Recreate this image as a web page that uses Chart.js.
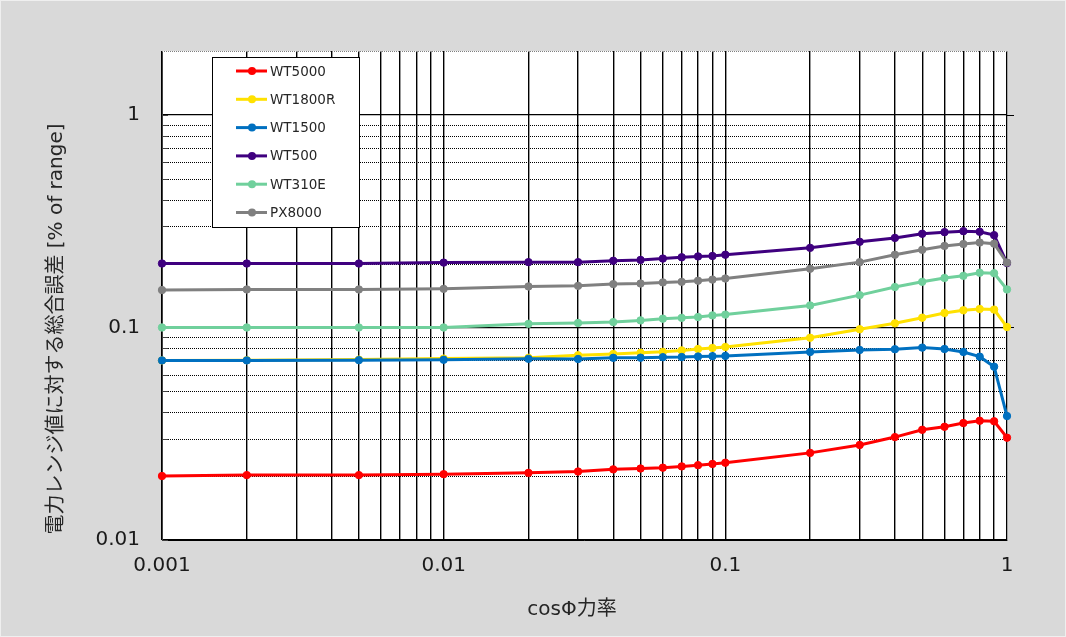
<!DOCTYPE html>
<html>
<head>
<meta charset="utf-8">
<script src="https://cdn.jsdelivr.net/npm/chart.js@4.4.1/dist/chart.umd.min.js"></script>
<style>
html,body{margin:0;padding:0;background:#d9d9d9;}
#wrap{width:1066px;height:637px;position:relative;}
</style>
</head>
<body>
<div id="wrap"><canvas id="c"></canvas></div>
<script>
// ---- data ----
const cosPhi = [0.001,0.002,0.005,0.01,0.02,0.03,0.04,0.05,0.06,0.07,0.08,0.09,0.1,0.2,0.3,0.4,0.5,0.6,0.7,0.8,0.9,1];
const seriesNames = ['WT5000','WT1800R','WT1500','WT500','WT310E','PX8000'];
const wt5000  = [0.0200,0.0202,0.0202,0.0204,0.0207,0.0210,0.0215,0.0217,0.0219,0.0222,0.0225,0.0228,0.0231,0.0257,0.0280,0.0305,0.0330,0.0341,0.0355,0.0364,0.0362,0.0303];
const wt1800r = [0.0700,0.0702,0.0706,0.0714,0.0720,0.0740,0.0750,0.0760,0.0768,0.0780,0.0792,0.0801,0.0810,0.0895,0.0981,0.1046,0.1112,0.1170,0.1205,0.1222,0.1214,0.1005];
const wt1500  = [0.0700,0.0700,0.0702,0.0705,0.0712,0.0711,0.0720,0.0721,0.0725,0.0726,0.0730,0.0733,0.0735,0.0767,0.0784,0.0790,0.0804,0.0792,0.0767,0.0729,0.0654,0.0383];
const wt500   = [0.200,0.200,0.200,0.202,0.203,0.203,0.206,0.208,0.211,0.214,0.216,0.217,0.220,0.237,0.253,0.264,0.276,0.281,0.284,0.282,0.272,0.201];
const wt310e  = [0.100,0.100,0.100,0.100,0.104,0.105,0.106,0.108,0.110,0.111,0.112,0.114,0.115,0.127,0.142,0.155,0.164,0.171,0.175,0.181,0.180,0.151];
const px8000  = [0.150,0.151,0.151,0.152,0.156,0.157,0.160,0.161,0.163,0.164,0.166,0.168,0.170,0.189,0.203,0.220,0.232,0.242,0.247,0.251,0.248,0.202];
const seriesColors = ['#ff0000','#ffe100','#0070c0','#3f007f','#70d09c','#808080'];
const xTickLabels = ['0.001','0.01','0.1','1'];
const yTickLabels = ['0.01','0.1','1'];
const xTitle = 'cosΦ力率';
const yTitle = '電力レンジ値に対する総合誤差 [% of range]';

// ---- helpers ----
const mults = [1,2,3,4,5,6,7,8,9];
function logTicks(decLabels, extra){
  const out = [];
  decLabels.forEach((lab,i)=>{
    const d = parseFloat(lab);
    if (i === decLabels.length-1) { out.push(d); return; }
    mults.forEach(m=>out.push(+(d*m).toPrecision(6)));
  });
  (extra||[]).forEach(v=>out.push(v));
  return out;
}
const xTickVals = logTicks(xTickLabels);
const yTickVals = logTicks(yTickLabels,[2]);
function labelFor(v, labels){
  for (const l of labels){ if (Math.abs(parseFloat(l)-v) < parseFloat(l)*1e-6) return l; }
  return '';
}
const isDecade = (v)=> Math.abs(Math.log10(v)-Math.round(Math.log10(v)))<1e-9;

const allSeries = [wt5000,wt1800r,wt1500,wt500,wt310e,px8000];
const datasets = allSeries.map((arr,i)=>({
  label: seriesNames[i],
  data: cosPhi.map((x,j)=>({x:x,y:arr[j]})),
  borderColor: seriesColors[i],
  backgroundColor: seriesColors[i],
  pointBackgroundColor: seriesColors[i],
  pointBorderColor: seriesColors[i],
  borderWidth: 3,
  pointRadius: 3.7,
  pointBorderWidth: 1,
  tension: 0,
  clip: false,
  order: allSeries.length - i
}));

const FONT = '"DejaVu Sans", "Noto Sans CJK JP", sans-serif';

const decor = {
  id:'decor',
  beforeDraw(chart){
    const {ctx, chartArea:a} = chart;
    ctx.save();
    ctx.fillStyle='#d9d9d9'; ctx.fillRect(0,0,chart.width,chart.height);
    ctx.strokeStyle='#efefef'; ctx.lineWidth=1; ctx.strokeRect(0.5,0.5,chart.width-1,chart.height-1);
    ctx.fillStyle='#ffffff'; ctx.fillRect(a.left,a.top,a.right-a.left,a.bottom-a.top);
    ctx.restore();
  },
  beforeDatasetsDraw(chart){
    const {ctx, chartArea:a} = chart;
    const ys = chart.scales.y;
    ctx.save();
    // minor dotted horizontal lines
    ctx.strokeStyle='#000'; ctx.lineWidth=1; ctx.setLineDash([1,1]);
    yTickVals.forEach(v=>{
      if (isDecade(v) || v>=2) return;
      const py = Math.round(ys.getPixelForValue(v))+0.5;
      ctx.beginPath(); ctx.moveTo(a.left,py); ctx.lineTo(a.right,py); ctx.stroke();
    });
    // top border dotted grey
    ctx.strokeStyle='#7f7f7f';
    ctx.beginPath(); ctx.moveTo(a.left,Math.round(a.top)+0.5); ctx.lineTo(a.right,Math.round(a.top)+0.5); ctx.stroke();
    ctx.setLineDash([]);
    // right border
    ctx.strokeStyle='#a6a6a6';
    ctx.beginPath(); ctx.moveTo(Math.round(a.right)+0.5,a.top); ctx.lineTo(Math.round(a.right)+0.5,a.bottom); ctx.stroke();
    // left inner minor ticks
    ctx.strokeStyle='#404040';
    yTickVals.forEach(v=>{
      if (v>=2) return;
      const py = Math.round(ys.getPixelForValue(v))+0.5;
      ctx.beginPath(); ctx.moveTo(a.left,py); ctx.lineTo(a.left+6,py); ctx.stroke();
    });
    // right outer major ticks
    ctx.strokeStyle='#000';
    yTickVals.forEach(v=>{
      if (!isDecade(v) || v<=0.01) return;
      const py = Math.round(ys.getPixelForValue(v))+0.5;
      ctx.beginPath(); ctx.moveTo(a.right,py); ctx.lineTo(a.right+7,py); ctx.stroke();
    });
    ctx.restore();
  },
  afterDatasetsDraw(chart){
    const {ctx} = chart;
    ctx.save();
    // legend box
    const bx=212, by=57, bw=147, bh=170;
    ctx.fillStyle='#fff'; ctx.fillRect(bx,by,bw,bh);
    ctx.strokeStyle='#000'; ctx.lineWidth=1; ctx.strokeRect(bx+0.5,by+0.5,bw,bh);
    chart.data.datasets.forEach((ds,i)=>{
      const yy = 71 + i*28.3;
      ctx.strokeStyle=ds.borderColor; ctx.lineWidth=3;
      ctx.beginPath(); ctx.moveTo(236,yy); ctx.lineTo(267,yy); ctx.stroke();
      ctx.fillStyle=ds.borderColor;
      ctx.beginPath(); ctx.arc(252,yy,4,0,Math.PI*2); ctx.fill();
      ctx.fillStyle='#262626'; ctx.font='13.5px '+FONT; ctx.textAlign='left'; ctx.textBaseline='middle';
      ctx.fillText(ds.label, 270, yy+1);
    });
    ctx.restore();
  },
  afterDraw(chart){
    const {ctx} = chart;
    ctx.save();
    ctx.fillStyle='#262626';
    ctx.font='20px '+FONT; ctx.textAlign='center'; ctx.textBaseline='middle';
    ctx.fillText(xTitle, 572, 610);
    ctx.translate(57,329); ctx.rotate(-Math.PI/2);
    ctx.fillText(yTitle, 0, 0);
    ctx.restore();
  }
};

new Chart(document.getElementById('c'), {
  type:'line',
  data:{datasets:datasets},
  plugins:[decor],
  options:{
    responsive:true, maintainAspectRatio:false, animation:false,
    layout:{padding:{top:51,right:59,bottom:0,left:0}},
    plugins:{legend:{display:false}, tooltip:{enabled:false}},
    scales:{
      x:{
        type:'logarithmic', min:0.001, max:1,
        afterBuildTicks:(s)=>{ s.ticks = xTickVals.map(v=>({value:v})); },
        afterFit:(s)=>{ s.height = 97; },
        ticks:{ autoSkip:false, maxRotation:0, padding:14, color:'#1a1a1a', font:{family:FONT,size:20},
          callback:(v)=>labelFor(v,xTickLabels) },
        grid:{ color:'#000', lineWidth:1.4, drawTicks:false },
        border:{ color:'#000', width:1 }
      },
      y:{
        type:'logarithmic', min:0.01, max:2,
        afterBuildTicks:(s)=>{ s.ticks = yTickVals.map(v=>({value:v})); },
        afterFit:(s)=>{ s.width = 162; },
        ticks:{ autoSkip:false, padding:22, color:'#1a1a1a', font:{family:FONT,size:20},
          callback:(v)=>labelFor(v,yTickLabels) },
        grid:{ color:(c)=> (c.tick && isDecade(c.tick.value) && c.tick.value<2) ? '#000' : 'rgba(0,0,0,0)', lineWidth:1.2, drawTicks:false },
        border:{ color:'#404040', width:1 }
      }
    }
  }
});
</script>
</body>
</html>
